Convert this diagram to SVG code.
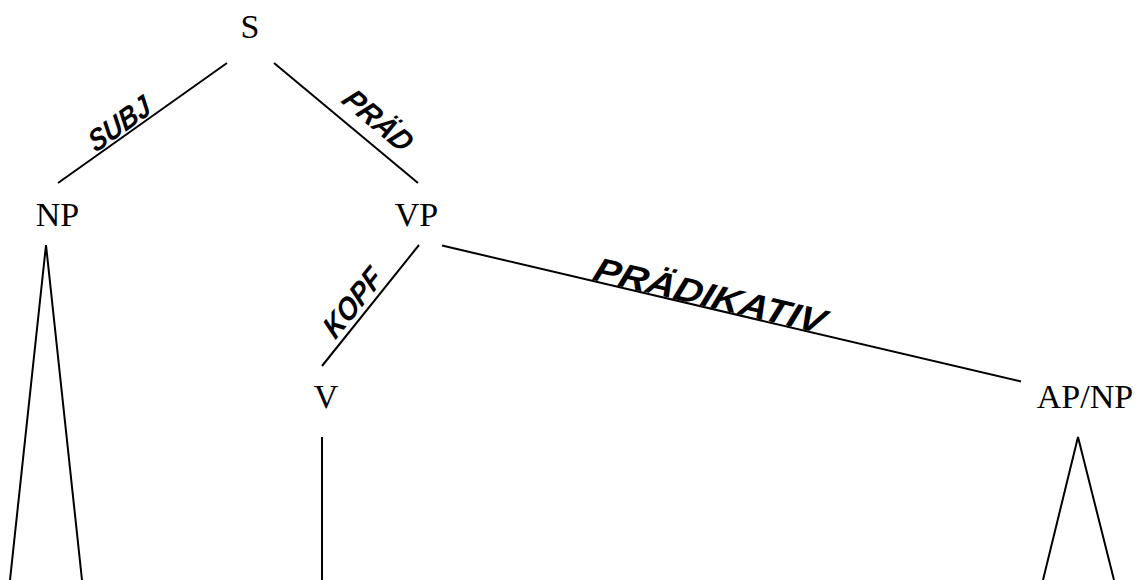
<svg xmlns="http://www.w3.org/2000/svg" width="1139" height="580" viewBox="0 0 1139 580">
<style>
.node{font-family:"Liberation Serif","Times New Roman",serif;font-size:34px;fill:#000;text-anchor:middle}
.lbl{font-family:"Liberation Sans",Arial,sans-serif;font-weight:bold;font-style:italic;fill:#000;text-anchor:middle}
.edge{stroke:#000;stroke-width:2;fill:none}
</style>
<rect width="1139" height="580" fill="#fff"/>
<g id="connectors">
<line class="edge" x1="227" y1="63" x2="58" y2="183"/>
<line class="edge" x1="274" y1="63" x2="418" y2="183"/>
<line class="edge" x1="419" y1="245" x2="322" y2="366"/>
<line class="edge" x1="442" y1="245.5" x2="1021" y2="381.5"/>
<line class="edge" x1="322" y1="437" x2="322" y2="580"/>
<polyline class="edge" points="10,580 46,245 82,580"/>
<polyline class="edge" points="1043,580 1078,437 1114,580"/>
</g>
<g id="edge-labels">
<text class="lbl" font-size="30" transform="translate(119,123) rotate(-35.4) skewX(-8)" y="11" textLength="70" lengthAdjust="spacingAndGlyphs">SUBJ</text>
<text class="lbl" font-size="30" transform="translate(379,120) rotate(39.8) skewX(-8)" y="11" textLength="80" lengthAdjust="spacingAndGlyphs">PRÄD</text>
<text class="lbl" font-size="30" transform="translate(352,302) rotate(-51.3) skewX(-8)" y="11" textLength="78" lengthAdjust="spacingAndGlyphs">KOPF</text>
<text class="lbl" font-size="34" transform="translate(710,295) rotate(13.2) skewX(-6)" y="12" textLength="236" lengthAdjust="spacingAndGlyphs">PRÄDIKATIV</text>
</g>
<g id="node-S"><text class="node" x="250" y="38">S</text></g>
<g id="node-NP"><text class="node" x="57.5" y="226">NP</text></g>
<g id="node-VP"><text class="node" x="416.5" y="226">VP</text></g>
<g id="node-V"><text class="node" x="326" y="408">V</text></g>
<g id="node-APNP"><text class="node" x="1085" y="408">AP/NP</text></g>
</svg>
